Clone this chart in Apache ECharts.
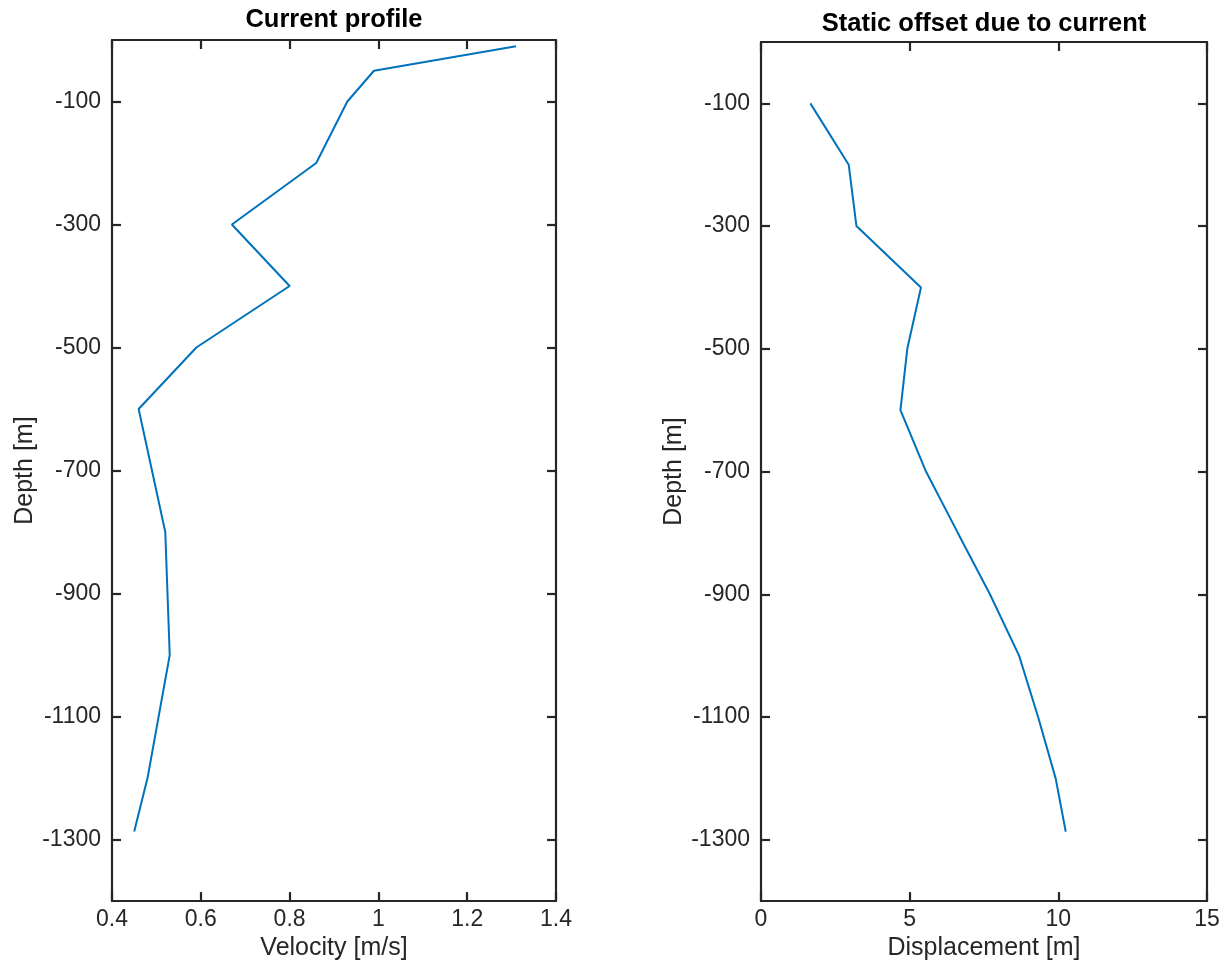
<!DOCTYPE html>
<html>
<head>
<meta charset="utf-8">
<title>Current profile and static offset</title>
<script src="https://cdn.jsdelivr.net/npm/echarts@6/dist/echarts.min.js"></script>
<style>
  html, body { margin: 0; padding: 0; background: #ffffff; }
  #chart { width: 1225px; height: 966px; }
</style>
</head>
<body>
<div id="chart"></div>
<script>
// Current profile: velocity vs depth
const velocityDepth = [-10, -50, -100, -200, -300, -400, -500, -600, -800, -1000, -1200, -1287];
const velocity      = [1.31, 0.99, 0.93, 0.86, 0.67, 0.80, 0.59, 0.46, 0.52, 0.53, 0.48, 0.45];

// Static offset of the line caused by the current
const offsetDepth   = [-100, -200, -300, -400, -500, -600, -700, -800, -900, -1000, -1100, -1200, -1287];
const displacement  = [1.66, 2.95, 3.21, 5.38, 4.92, 4.69, 5.55, 6.62, 7.70, 8.68, 9.32, 9.91, 10.25];

// Tick labels on the depth axes
const depthTicks = [-1300, -1100, -900, -700, -500, -300, -100];

const FONT = '"Liberation Sans", Arial, Helvetica, sans-serif';
const INK = '#262626';
const LINE_BLUE = '#0072BD';
const TICK_SIZE = 23;
const NAME_SIZE = 25;
const TITLE_SIZE = 25.5;
const AXIS_WIDTH = 2.2;

const pairs = (xs, ys) => xs.map((x, i) => [x, ys[i]]);
const plain = v => String(v);

const chart = echarts.init(document.getElementById('chart'), null, { renderer: 'canvas' });

function boxAxisLine() {
  return { show: true, onZero: false, lineStyle: { color: INK, width: AXIS_WIDTH } };
}

function boxTick(extra) {
  return Object.assign({ show: true, inside: true, length: 9,
                         lineStyle: { color: INK, width: AXIS_WIDTH } }, extra || {});
}

function xAxes(gridIndex, min, max, interval, name) {
  return [
    {
      type: 'value', gridIndex, position: 'bottom', min, max, interval,
      name, nameLocation: 'middle', nameGap: 30,
      nameTextStyle: { fontFamily: FONT, fontSize: NAME_SIZE, color: INK },
      axisLine: boxAxisLine(),
      axisTick: boxTick(),
      axisLabel: { fontFamily: FONT, fontSize: TICK_SIZE, color: INK, margin: 7, formatter: plain },
      splitLine: { show: false }
    },
    {
      type: 'value', gridIndex, position: 'top', min, max, interval,
      axisLine: boxAxisLine(),
      axisTick: boxTick(),
      axisLabel: { show: false },
      splitLine: { show: false }
    }
  ];
}

function yAxes(gridIndex) {
  return [
    {
      type: 'value', gridIndex, position: 'left', min: -1400, max: 0,
      name: 'Depth [m]', nameLocation: 'middle', nameGap: 74, nameRotate: 90,
      nameTextStyle: { fontFamily: FONT, fontSize: NAME_SIZE, color: INK },
      axisLine: boxAxisLine(),
      axisTick: boxTick({ customValues: depthTicks }),
      axisLabel: { fontFamily: FONT, fontSize: TICK_SIZE, color: INK, margin: 11,
                   customValues: depthTicks, formatter: plain },
      splitLine: { show: false }
    },
    {
      type: 'value', gridIndex, position: 'right', min: -1400, max: 0,
      axisLine: boxAxisLine(),
      axisTick: boxTick({ customValues: depthTicks }),
      axisLabel: { show: false },
      splitLine: { show: false }
    }
  ];
}

const option = {
  backgroundColor: '#ffffff',
  animation: false,
  title: [
    { text: 'Current profile', left: 334, top: 7, textAlign: 'center', padding: 0,
      textStyle: { fontFamily: FONT, fontSize: TITLE_SIZE, fontWeight: 'bold', color: '#000000' } },
    { text: 'Static offset due to current', left: 984, top: 11, textAlign: 'center', padding: 0,
      textStyle: { fontFamily: FONT, fontSize: TITLE_SIZE, fontWeight: 'bold', color: '#000000' } }
  ],
  grid: [
    { left: 112, top: 40, width: 444, height: 865 },
    { left: 761, top: 42, width: 446, height: 864 }
  ],
  xAxis: [
    ...xAxes(0, 0.4, 1.4, 0.2, 'Velocity [m/s]'),
    ...xAxes(1, 0, 15, 5, 'Displacement [m]')
  ],
  yAxis: [
    ...yAxes(0),
    ...yAxes(1)
  ],
  series: [
    {
      type: 'line', xAxisIndex: 0, yAxisIndex: 0,
      data: pairs(velocity, velocityDepth),
      showSymbol: false, symbol: 'none',
      lineStyle: { color: LINE_BLUE, width: 2 }
    },
    {
      type: 'line', xAxisIndex: 2, yAxisIndex: 2,
      data: pairs(displacement, offsetDepth),
      showSymbol: false, symbol: 'none',
      lineStyle: { color: LINE_BLUE, width: 2 }
    }
  ]
};

chart.setOption(option);
</script>
</body>
</html>
